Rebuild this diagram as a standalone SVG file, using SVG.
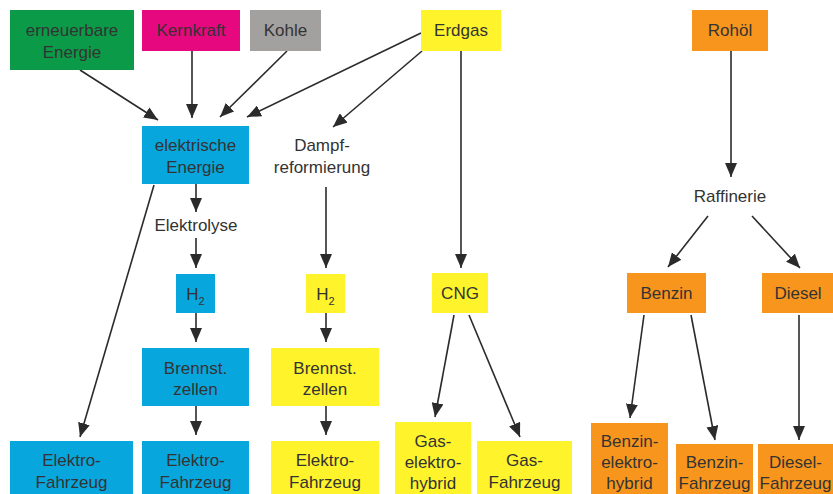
<svg xmlns="http://www.w3.org/2000/svg" width="833" height="494" viewBox="0 0 833 494">
<defs>
<marker id="ah" markerUnits="userSpaceOnUse" markerWidth="14" markerHeight="12" refX="14" refY="6" orient="auto">
<path d="M0,0 L14,6 L0,12 z" fill="#2b2b2b"/>
</marker>
<style>
text{font-family:"Liberation Sans","Helvetica",Arial,sans-serif;font-size:17px;fill:#333;text-anchor:middle}
.g{fill:#0b9a47}.m{fill:#e6087e}.k{fill:#a3a0a0}.y{fill:#fff32b}.o{fill:#f8951d}.b{fill:#07a6dd}
#edges line{stroke:#2b2b2b;stroke-width:1.6;marker-end:url(#ah)}
</style>
</defs>
<rect width="833" height="494" fill="#fff"/>
<g id="edges">
<line x1="80" y1="70" x2="158" y2="120"/>
<line x1="192" y1="51" x2="192" y2="118"/>
<line x1="287" y1="51" x2="220" y2="117"/>
<line x1="421" y1="33" x2="247" y2="117"/>
<line x1="422" y1="51" x2="333" y2="127"/>
<line x1="461" y1="51" x2="461" y2="268"/>
<line x1="196" y1="184" x2="196" y2="212"/>
<line x1="196" y1="238" x2="196" y2="268"/>
<line x1="196" y1="313" x2="196" y2="342"/>
<line x1="196" y1="406" x2="196" y2="435"/>
<line x1="154" y1="185" x2="80" y2="437"/>
<line x1="326" y1="187" x2="326" y2="268"/>
<line x1="326" y1="313" x2="326" y2="342"/>
<line x1="326" y1="406" x2="326" y2="435"/>
<line x1="454" y1="315" x2="435" y2="417"/>
<line x1="469" y1="315" x2="520" y2="437"/>
<line x1="731" y1="51" x2="731" y2="177"/>
<line x1="708" y1="216" x2="668" y2="267"/>
<line x1="752" y1="216" x2="800" y2="268"/>
<line x1="644" y1="315" x2="630" y2="418"/>
<line x1="691" y1="315" x2="715" y2="440"/>
<line x1="799" y1="315" x2="799" y2="440"/>
</g>
<g id="erneuerbare"><rect class="g" x="10" y="10" width="124" height="60"/><text x="72" y="36">erneuerbare</text><text x="72" y="58">Energie</text></g>
<g id="kernkraft"><rect class="m" x="142" y="10" width="98" height="41"/><text x="191" y="36">Kernkraft</text></g>
<g id="kohle"><rect class="k" x="250" y="10" width="71" height="41"/><text x="285.5" y="36">Kohle</text></g>
<g id="erdgas"><rect class="y" x="421" y="10" width="80" height="41"/><text x="461" y="36">Erdgas</text></g>
<g id="rohoel"><rect class="o" x="692" y="10" width="76" height="41"/><text x="730" y="36">Rohöl</text></g>
<g id="elektrische"><rect class="b" x="142" y="126" width="107" height="58"/><text x="195.5" y="151">elektrische</text><text x="195.5" y="173">Energie</text></g>
<g id="dampf"><text x="322" y="151">Dampf-</text><text x="322" y="173">reformierung</text></g>
<g id="elektrolyse"><text x="196" y="231">Elektrolyse</text></g>
<g id="raffinerie"><text x="730" y="202">Raffinerie</text></g>
<g id="h2blau"><rect class="b" x="176" y="274" width="39" height="39"/><text x="195.5" y="300">H<tspan font-size="11" dy="5">2</tspan></text></g>
<g id="h2gelb"><rect class="y" x="306" y="274" width="39" height="39"/><text x="325.5" y="300">H<tspan font-size="11" dy="5">2</tspan></text></g>
<g id="cng"><rect class="y" x="432" y="273" width="56" height="40"/><text x="460" y="299">CNG</text></g>
<g id="benzin"><rect class="o" x="627" y="273" width="79" height="40"/><text x="666.5" y="299">Benzin</text></g>
<g id="diesel"><rect class="o" x="762" y="273" width="71" height="40"/><text x="798" y="299">Diesel</text></g>
<g id="brennstblau"><rect class="b" x="142" y="348" width="107" height="58"/><text x="195.5" y="374">Brennst.</text><text x="195.5" y="395">zellen</text></g>
<g id="brennstgelb"><rect class="y" x="271" y="348" width="108" height="58"/><text x="325" y="374">Brennst.</text><text x="325" y="395">zellen</text></g>
<g id="elektro1"><rect class="b" x="10" y="441" width="123" height="53"/><text x="71.5" y="466">Elektro-</text><text x="71.5" y="488">Fahrzeug</text></g>
<g id="elektro2"><rect class="b" x="142" y="441" width="107" height="53"/><text x="195.5" y="466">Elektro-</text><text x="195.5" y="488">Fahrzeug</text></g>
<g id="elektro3"><rect class="y" x="271" y="441" width="108" height="53"/><text x="325" y="466">Elektro-</text><text x="325" y="488">Fahrzeug</text></g>
<g id="gashybrid"><rect class="y" x="395" y="422" width="76" height="72"/><text x="433" y="447">Gas-</text><text x="433" y="468">elektro-</text><text x="433" y="489">hybrid</text></g>
<g id="gasfahrzeug"><rect class="y" x="477" y="441" width="95" height="53"/><text x="524.5" y="466">Gas-</text><text x="524.5" y="488">Fahrzeug</text></g>
<g id="benzinhybrid"><rect class="o" x="591" y="423" width="77" height="71"/><text x="629.5" y="447">Benzin-</text><text x="629.5" y="468">elektro-</text><text x="629.5" y="489">hybrid</text></g>
<g id="benzinfahrzeug"><rect class="o" x="676" y="444" width="77" height="50"/><text x="714.5" y="468">Benzin-</text><text x="714.5" y="489">Fahrzeug</text></g>
<g id="dieselfahrzeug"><rect class="o" x="758" y="444" width="75" height="50"/><text x="795.5" y="468">Diesel-</text><text x="795.5" y="489">Fahrzeug</text></g>
</svg>
